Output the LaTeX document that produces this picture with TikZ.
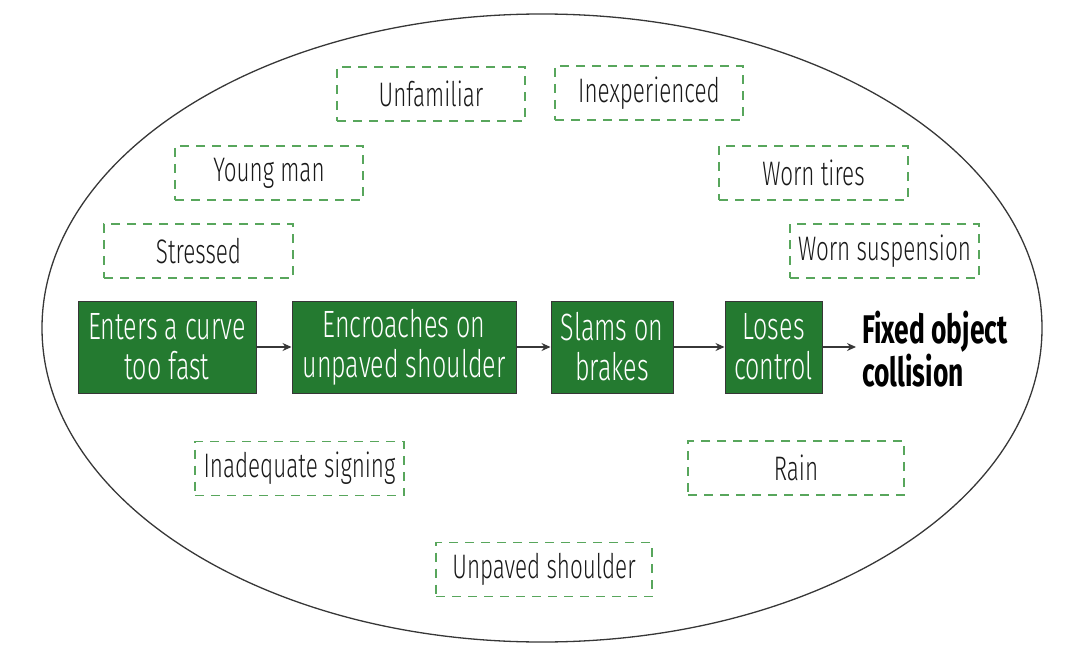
\documentclass[tikz,border=0pt]{standalone}
\usepackage{fontspec}
\setmainfont{Fira Sans}[FakeStretch=0.66, UprightFont={* Light}, BoldFont={* Bold}]
\usetikzlibrary{arrows.meta}
\definecolor{boxgreen}{RGB}{36,122,48}
\definecolor{dashgreen}{RGB}{88,166,92}
\definecolor{linegray}{RGB}{55,55,55}
\tikzset{
  stepbox/.style={draw=linegray, line width=1pt, fill=boxgreen, text=white,
    minimum height=92pt, inner sep=0pt, align=center,
    font=\fontsize{38}{40}\selectfont},
  factor/.style={draw=dashgreen, line width=1.7pt, dash pattern=on 9pt off 7pt,
    minimum height=54pt, inner sep=0pt, text=black!90,
    font=\fontsize{34}{36}\selectfont},
  flow/.style={draw=linegray, line width=1.2pt, -{Stealth[length=9pt,width=8pt]}}
}
\begin{document}
\begin{tikzpicture}[x=1pt,y=-1pt]
\useasboundingbox (0,0) rectangle (1081,655);
\draw[linegray, line width=1.3pt] (542,328) ellipse [x radius=500, y radius=314];

\node[stepbox, minimum width=178pt] (s1) at (167,347) {Enters a curve\\too fast};
\node[stepbox, minimum width=224pt] (s2) at (404,347) {Encroaches on\\unpaved shoulder};
\node[stepbox, minimum width=122pt] (s3) at (612,347) {Slams on\\brakes};
\node[stepbox, minimum width=97pt] (s4) at (773.5,347) {Loses\\control};
\node[anchor=west, align=left, inner sep=0pt, font=\bfseries\fontsize{40}{40}\selectfont] (out) at (862,349) {Fixed object\\collision};
\coordinate (outin) at ([xshift=-6pt]out.west |- s4.east);

\draw[flow] (s1) -- (s2);
\draw[flow] (s2) -- (s3);
\draw[flow] (s3) -- (s4);
\draw[flow] (s4.east) -- (outin);

\node[factor, minimum width=188pt] (f1) at (431,94) {Unfamiliar};
\node[factor, minimum width=188pt] (f2) at (649,93) {Inexperienced};
\node[factor, minimum width=188pt] (f3) at (269,173) {Young man};
\node[factor, minimum width=189pt] (f4) at (813.5,173) {Worn tires};
\node[factor, minimum width=189pt] (f5) at (198.5,251) {Stressed};
\node[factor, minimum width=189pt] (f6) at (884.5,251) {Worn suspension};
\node[factor, minimum width=209pt] (f7) at (299.5,468.5) {Inadequate signing};
\node[factor, minimum width=216pt] (f8) at (796,468) {Rain};
\node[factor, minimum width=216pt] (f9) at (544,569.5) {Unpaved shoulder};
\end{tikzpicture}
\end{document}
